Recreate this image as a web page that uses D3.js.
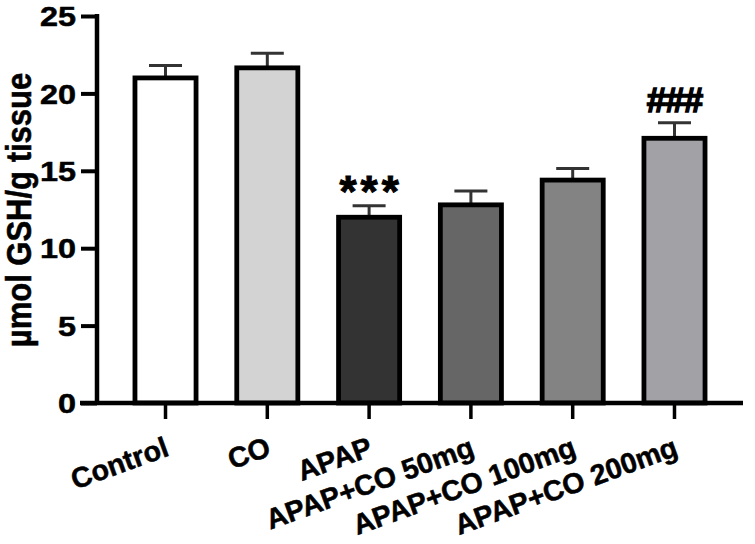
<!DOCTYPE html>
<html><head><meta charset="utf-8">
<script src="https://cdn.jsdelivr.net/npm/d3@7"></script>
<style>body{margin:0;background:#fff}svg{display:block}text{font-family:"Liberation Sans",Arial,sans-serif;font-weight:bold;fill:#000;stroke:#000;stroke-width:0.5px}</style>
</head><body>
<script>
const categories = ["Control","CO","APAP","APAP+CO 50mg","APAP+CO 100mg","APAP+CO 200mg"];
const means = [21.0, 21.65, 12.0, 12.8, 14.4, 17.1];
const errors = [0.8, 0.95, 0.75, 0.9, 0.75, 1.0];
const fills = ["#ffffff","#d3d3d3","#333333","#666666","#838383","#a2a2a6"];
const marks = ["","","***","","","###"];
const yTicks = [0,5,10,15,20,25];
const yLabel = "µmol GSH/g tissue";

const W=755,H=544;
const svg=d3.select("body").append("svg").attr("width",W).attr("height",H);
const x=d3.scaleBand().domain(categories).range([97,743]).paddingInner(0.4).paddingOuter(0.373);
const y=d3.scaleLinear().domain([0,25]).range([403,16]);

// error bars
const eg=svg.append("g");
categories.forEach((c,i)=>{
  const cx=x(c)+x.bandwidth()/2;
  eg.append("line").attr("x1",cx).attr("x2",cx).attr("y1",y(means[i])).attr("y2",y(means[i]+errors[i]))
    .attr("stroke","#333").attr("stroke-width",3);
  eg.append("line").attr("x1",cx-16.5).attr("x2",cx+16.5).attr("y1",y(means[i]+errors[i])).attr("y2",y(means[i]+errors[i]))
    .attr("stroke","#333").attr("stroke-width",3);
});
// bars
svg.append("g").selectAll("rect").data(categories).join("rect")
  .attr("x",d=>x(d)).attr("width",x.bandwidth())
  .attr("y",(d,i)=>y(means[i])).attr("height",(d,i)=>y(0)-y(means[i]))
  .attr("fill",(d,i)=>fills[i]).attr("stroke","#000").attr("stroke-width",4.8);

// y axis
const ya=svg.append("g").attr("transform","translate(97,0)")
  .call(d3.axisLeft(y).tickValues(yTicks).tickSize(16).tickPadding(5).tickFormat(d3.format("d")));
ya.select(".domain").attr("stroke","#000").attr("stroke-width",4.5).attr("d","M0,14V405");
ya.selectAll(".tick line").attr("stroke","#000").attr("stroke-width",4);
ya.selectAll(".tick text").style("font-size","27px").attr("dy","0.36em")
  .attr("transform","translate(-21,0) scale(1.2,1) translate(21,0)");

// x axis
const xa=svg.append("g").attr("transform","translate(0,403)")
  .call(d3.axisBottom(x).tickSize(16).tickFormat(""));
xa.select(".domain").attr("stroke","#000").attr("stroke-width",4.5).attr("d","M80,0H743");
xa.selectAll(".tick line").attr("stroke","#000").attr("stroke-width",3.5);
xa.selectAll(".tick").append("text")
  .attr("text-anchor","end").style("font-size","28.5px")
  .attr("transform","translate(5,52) rotate(-20)")
  .text(d=>d);

// annotations
svg.append("g").selectAll("text").data(categories).join("text")
  .attr("x",(d,i)=>x(d)+x.bandwidth()/2+(marks[i]==="***"?2:0))
  .attr("y",(d,i)=>marks[i]==="***"?207:112)
  .attr("text-anchor","middle")
  .style("font-size",(d,i)=>marks[i]==="***"?"44px":"35px")
  .style("letter-spacing",(d,i)=>marks[i]==="***"?"4px":"-1px")
  .style("stroke-width",(d,i)=>marks[i]==="***"?"1px":"1.5px")
  .text((d,i)=>marks[i]);

// y label
svg.append("text").attr("transform","translate(31,210) rotate(-90) scale(1,1.15)")
  .attr("text-anchor","middle").style("font-size","31px").text(yLabel);
</script>
</body></html>
